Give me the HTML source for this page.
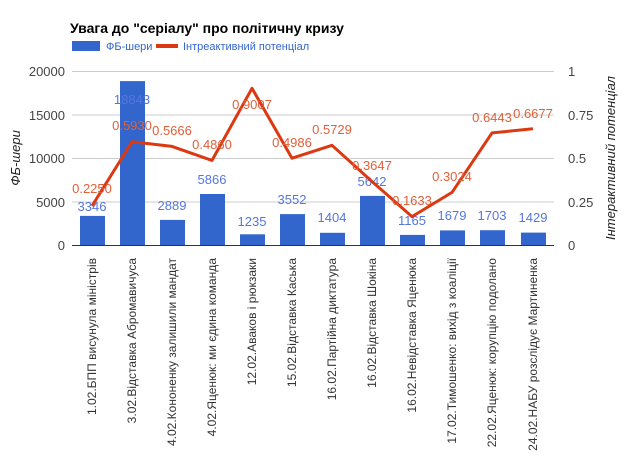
<!DOCTYPE html>
<html><head><meta charset="utf-8"><style>
html,body{margin:0;padding:0;background:#fff;}
svg{display:block;font-family:"Liberation Sans","DejaVu Sans",sans-serif;}
</style></head><body>
<svg width="625" height="459" viewBox="0 0 625 459">
<text x="70" y="33" font-size="14" font-weight="bold" fill="#000">Увага до "серіалу" про політичну кризу</text>
<rect x="72" y="41" width="28" height="10" fill="#3366cc"/>
<text x="106" y="50" font-size="11" fill="#3366cc">ФБ-шери</text>
<rect x="156" y="44" width="22" height="4" fill="#dc3912"/>
<text x="183" y="50" font-size="11" fill="#3366cc">Інтреактивний потенціал</text>
<g stroke="#ccc" stroke-width="1">
<line x1="72" y1="71.5" x2="554" y2="71.5"/>
<line x1="72" y1="115" x2="554" y2="115"/>
<line x1="72" y1="158.5" x2="554" y2="158.5"/>
<line x1="72" y1="202" x2="554" y2="202"/>
</g>
<g font-size="13" fill="#444" text-anchor="end">
<text x="65" y="76">20000</text><text x="65" y="120">15000</text><text x="65" y="163">10000</text><text x="65" y="207">5000</text><text x="65" y="250">0</text>
</g>
<g font-size="13" fill="#444">
<text x="568" y="76">1</text><text x="568" y="120">0.75</text><text x="568" y="163">0.5</text><text x="568" y="207">0.25</text><text x="568" y="250">0</text>
</g>
<text transform="translate(20,158) rotate(-90)" font-size="13" font-style="italic" fill="#222" text-anchor="middle">ФБ-шери</text>
<text transform="translate(615,158) rotate(-90)" font-size="13" font-style="italic" fill="#222" text-anchor="middle">Інтерактивний потенціал</text>
<g fill="#3366cc">
<rect x="80" y="215.9" width="25" height="29.1"/>
<rect x="120" y="81.1" width="25" height="163.9"/>
<rect x="160" y="219.9" width="25" height="25.1"/>
<rect x="200" y="194" width="25" height="51"/>
<rect x="240" y="234.3" width="25" height="10.7"/>
<rect x="280" y="214.1" width="25" height="30.9"/>
<rect x="320" y="232.8" width="25" height="12.2"/>
<rect x="360" y="195.9" width="25" height="49.1"/>
<rect x="400" y="234.9" width="25" height="10.1"/>
<rect x="440" y="230.4" width="25" height="14.6"/>
<rect x="480" y="230.2" width="25" height="14.8"/>
<rect x="521" y="232.6" width="25" height="12.4"/>
</g>
<line x1="72" y1="245.5" x2="554" y2="245.5" stroke="#333" stroke-width="1"/>
<g font-size="13" fill="#5577dd" text-anchor="middle">
<text x="92" y="211">3346</text><text x="132" y="104">18843</text><text x="172" y="210">2889</text><text x="212" y="184">5866</text><text x="252" y="226">1235</text><text x="292" y="204">3552</text><text x="332" y="222">1404</text><text x="372" y="186">5642</text><text x="412" y="225">1165</text><text x="452" y="220">1679</text><text x="492" y="220">1703</text><text x="533" y="222">1429</text>
</g>
<polyline fill="none" stroke="#dc3912" stroke-width="3" stroke-linejoin="round" points="92,205.9 132,141.8 172,146.4 212,160.4 252,88.3 292,158.2 332,145.3 372,181.5 412,216.6 452,192.4 492,132.9 533,128.8"/>
<g font-size="13" fill="#e0603a" text-anchor="middle">
<text x="92" y="193">0.2250</text><text x="132" y="130">0.5930</text><text x="172" y="135">0.5666</text><text x="212" y="149">0.4860</text><text x="252" y="109">0.9007</text><text x="292" y="147">0.4986</text><text x="332" y="134">0.5729</text><text x="372" y="170">0.3647</text><text x="412" y="205">0.1633</text><text x="452" y="181">0.3024</text><text x="492" y="122">0.6443</text><text x="533" y="118">0.6677</text>
</g>
<g font-size="12" fill="#333" text-anchor="end">
<text transform="translate(96,258) rotate(-90)">1.02.БПП висунула міністрів</text>
<text transform="translate(136,258) rotate(-90)">3.02.Відставка Абромавичуса</text>
<text transform="translate(176,258) rotate(-90)">4.02.Кононенку залишили мандат</text>
<text transform="translate(216,258) rotate(-90)">4.02.Яценюк: ми єдина команда</text>
<text transform="translate(256,258) rotate(-90)">12.02.Аваков і рюкзаки</text>
<text transform="translate(296,258) rotate(-90)">15.02.Відставка Каська</text>
<text transform="translate(336,258) rotate(-90)">16.02.Партійна диктатура</text>
<text transform="translate(376,258) rotate(-90)">16.02.Відставка Шокіна</text>
<text transform="translate(416,258) rotate(-90)">16.02.Невідставка Яценюка</text>
<text transform="translate(456,258) rotate(-90)">17.02.Тимошенко: вихід з коаліції</text>
<text transform="translate(496,258) rotate(-90)">22.02.Яценюк: корупцію подолано</text>
<text transform="translate(537,258) rotate(-90)">24.02.НАБУ розслідує Мартиненка</text>
</g>
</svg>
</body></html>
